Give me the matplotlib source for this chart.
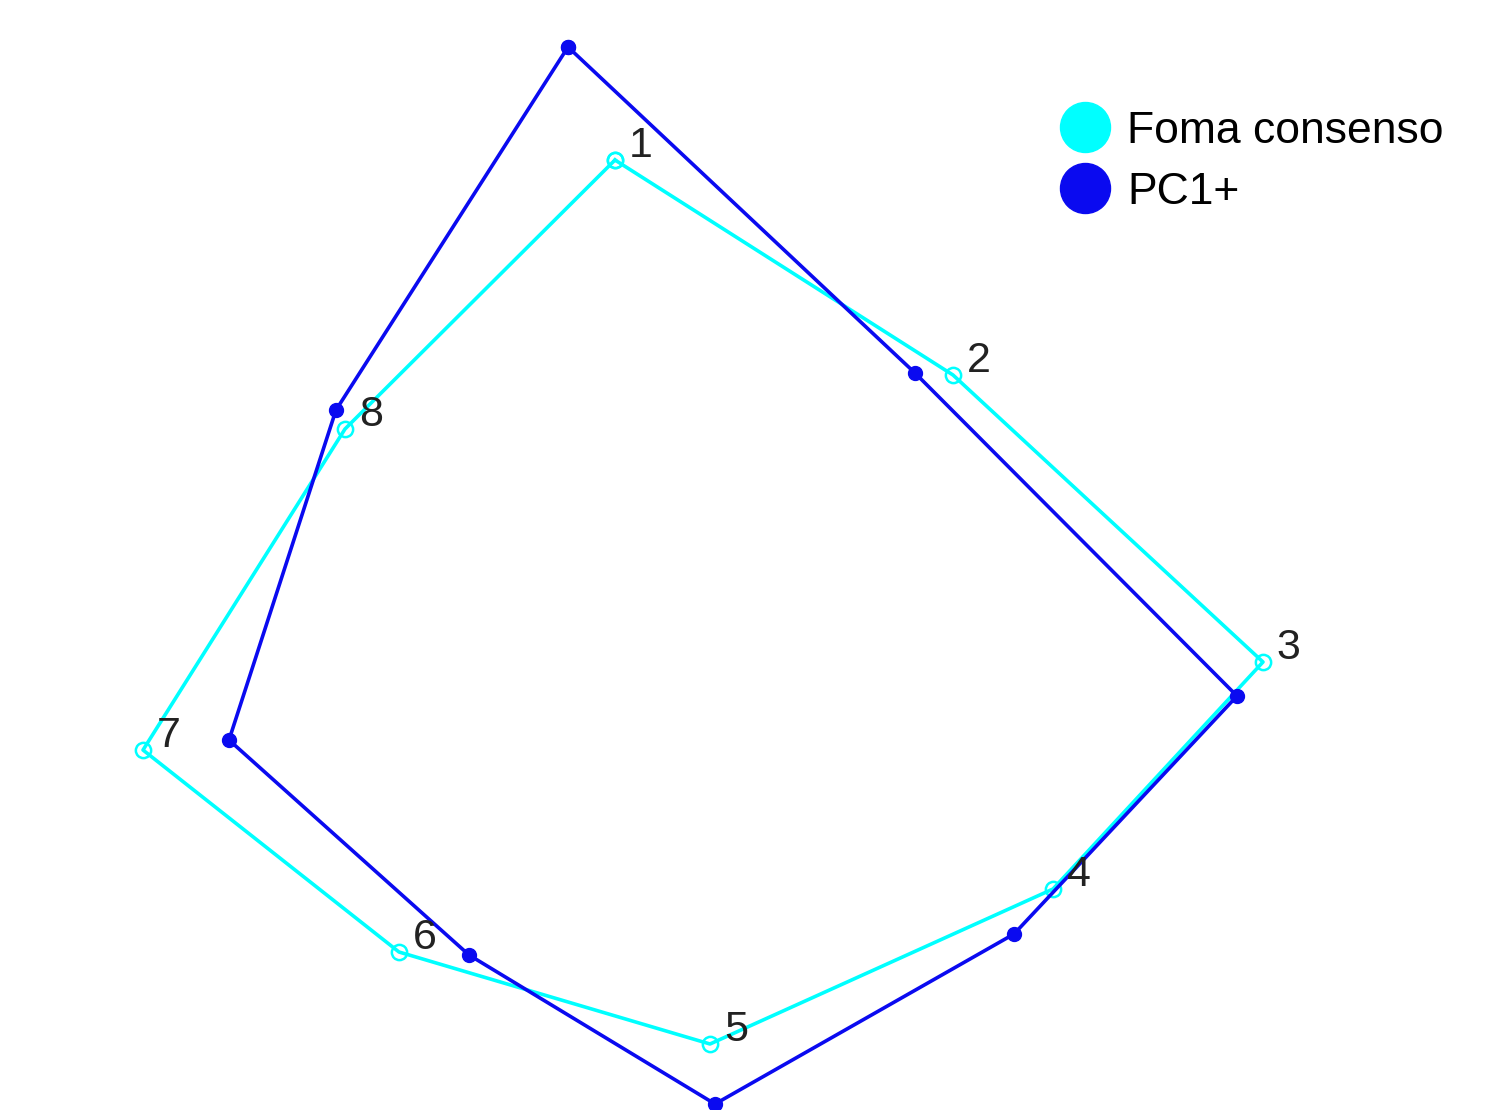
import matplotlib.pyplot as plt
from matplotlib.lines import Line2D

# landmark coordinates (image-like units, y grows downward)
labels = ['1', '2', '3', '4', '5', '6', '7', '8']
cons_x = [615, 953, 1263, 1053, 710, 399, 143, 345]
cons_y = [160, 375, 662, 889, 1044, 952, 750, 429]
pc1_x = [568, 915, 1237, 1014, 715, 469, 229, 336]
pc1_y = [47, 373, 696, 934, 1104, 955, 740, 410]

cyan = '#00FFFF'
blue = '#0A0AF0'

plt.rcParams['font.family'] = ['Liberation Sans', 'DejaVu Sans']

fig = plt.figure(figsize=(15, 11.1), dpi=100)
ax = fig.add_axes([0, 0, 1, 1])

ax.plot(cons_x + cons_x[:1], cons_y + cons_y[:1], color=cyan, lw=2.6,
        marker='o', ms=11, mfc='none', mec=cyan, mew=1.8)
ax.plot(pc1_x + pc1_x[:1], pc1_y + pc1_y[:1], color=blue, lw=2.6,
        marker='o', ms=10, mfc=blue, mec=blue)

for lab, x, y in zip(labels, cons_x, cons_y):
    ax.annotate(lab, (x, y), xytext=(10, 2), textcoords='offset points',
                fontsize=31, color='#222222', ha='left', va='baseline')

ax.set_xlim(0, 1500)
ax.set_ylim(1110, 0)
ax.axis('off')

handles = [Line2D([], [], ls='none', marker='o', ms=36, color=cyan),
           Line2D([], [], ls='none', marker='o', ms=36, color=blue)]
fig.legend(handles, ['Foma consenso', 'PC1+'], loc='upper left',
           bbox_to_anchor=(0.682, 0.936), frameon=False, fontsize=32,
           handlelength=1.0, handletextpad=0.45, labelspacing=0.45)

fig.savefig('out.png', dpi=100, facecolor='white')
